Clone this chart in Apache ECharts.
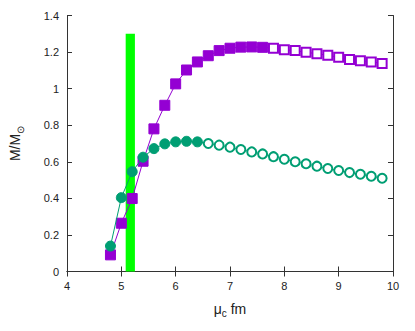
<!DOCTYPE html>
<html><head><meta charset="utf-8">
<script src="https://cdn.jsdelivr.net/npm/echarts@6/dist/echarts.min.js"></script>
<style>html,body{margin:0;padding:0;background:#fff}#c{width:415px;height:331px}</style>
</head><body><div id="c"></div>
<script>
const muC = [4.8,5.0,5.2,5.4,5.6,5.8,6.0,6.2,6.4,6.6,6.8,7.0,7.2,7.4,7.6,7.8,8.0,8.2,8.4,8.6,8.8,9.0,9.2,9.4,9.6,9.8];
const massPurple = [0.091,0.264,0.399,0.603,0.780,0.909,1.026,1.102,1.146,1.180,1.208,1.221,1.227,1.228,1.226,1.221,1.213,1.208,1.199,1.191,1.182,1.172,1.160,1.153,1.146,1.138];
const massGreen = [0.139,0.404,0.546,0.625,0.672,0.698,0.709,0.712,0.709,0.700,0.691,0.680,0.667,0.654,0.643,0.628,0.614,0.600,0.589,0.576,0.563,0.552,0.541,0.532,0.521,0.510];
const purpleFilledUpTo = 7.6;   // filled markers up to this mu
const greenFilledUpTo = 6.4;
const bandX = [5.08, 5.25];
const bandTop = 1.3;
const xTicks = [4,5,6,7,8,9,10];
const yTicks = [0,0.2,0.4,0.6,0.8,1,1.2,1.4];

const PURPLE = '#9400d3', GREEN = '#009e73', BAND = '#00ff00';
const FONT = 'Liberation Sans';

function items(ys, limit, filled, empty, filledSize, emptySize) {
  return muC.map((x, i) => {
    const f = x <= limit + 1e-9;
    return {value: [x, ys[i]], symbol: f ? filled : empty, symbolSize: f ? filledSize : emptySize};
  });
}

const axisLine = {show: true, lineStyle: {color: '#333', width: 1}};
const tick = {show: true, inside: true, length: 5, lineStyle: {color: '#333'}};
const rich = {
  a: {fontSize: 14, fontFamily: FONT, color: '#222', lineHeight: 20, verticalAlign: 'middle'},
  s: {fontSize: 10, fontFamily: FONT, color: '#222', lineHeight: 10, verticalAlign: 'bottom'}
};

const chart = echarts.init(document.getElementById('c'), null, {renderer: 'svg'});
chart.setOption({
  animation: false,
  backgroundColor: '#fff',
  grid: {left: 64, right: 22, top: 15.5, bottom: 59.5},
  xAxis: [{
    type: 'value', min: xTicks[0], max: xTicks[xTicks.length-1], interval: 1,
    axisLine, axisTick: tick, splitLine: {show: false},
    axisLabel: {color: '#222', fontSize: 11, fontFamily: FONT, margin: 9},
    name: '{a|μ}{s|c}{a| fm}', nameLocation: 'middle', nameGap: 27,
    nameTextStyle: {rich}
  }, {
    type: 'value', position: 'top', min: xTicks[0], max: xTicks[xTicks.length-1], interval: 1,
    axisLine, axisTick: tick, axisLabel: {show: false}, splitLine: {show: false}
  }],
  yAxis: [{
    type: 'value', min: yTicks[0], max: yTicks[yTicks.length-1], interval: 0.2,
    axisLine, axisTick: tick, splitLine: {show: false},
    axisLabel: {color: '#222', fontSize: 11, fontFamily: FONT, margin: 8},
    name: '{a|M/M}{s|⊙}', nameLocation: 'middle', nameGap: 42, nameRotate: 90,
    nameTextStyle: {rich}
  }, {
    type: 'value', position: 'right', min: yTicks[0], max: yTicks[yTicks.length-1], interval: 0.2,
    axisLine, axisTick: tick, axisLabel: {show: false}, splitLine: {show: false}
  }],
  series: [{
    type: 'line', data: [], z: 1,
    markArea: {silent: true, itemStyle: {color: BAND, opacity: 1},
      data: [[{coord: [bandX[0], 0]}, {coord: [bandX[1], bandTop]}]]}
  }, {
    type: 'line', data: items(massPurple, purpleFilledUpTo, 'rect', 'emptyRect', 10, 9),
    z: 3,
    lineStyle: {color: PURPLE, width: 1},
    itemStyle: {color: PURPLE, borderColor: PURPLE, borderWidth: 1}
  }, {
    type: 'line', data: items(massGreen, greenFilledUpTo, 'circle', 'emptyCircle', 10, 9),
    z: 4,
    lineStyle: {color: GREEN, width: 1},
    itemStyle: {color: GREEN, borderColor: GREEN, borderWidth: 1}
  }]
});
</script></body></html>
